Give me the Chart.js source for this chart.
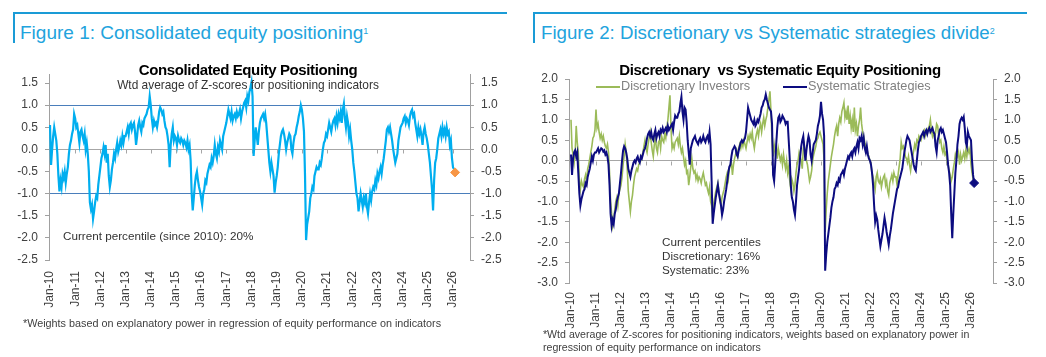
<!DOCTYPE html>
<html><head><meta charset="utf-8">
<script src="https://cdn.jsdelivr.net/npm/chart.js@4.4.1/dist/chart.umd.min.js"></script>
<style>
body{margin:0;width:1046px;height:357px;background:#fff;position:relative;overflow:hidden;font-family:"Liberation Sans",Arial,sans-serif;}
.hdr{position:absolute;top:12px;height:31px;border-top:2px solid #1a9bd6;border-left:2px solid #1a9bd6;box-sizing:border-box;}
.fig{position:absolute;top:23px;font-size:19px;line-height:19px;color:#22a3dd;white-space:nowrap;}
.fig sup{font-size:9px;vertical-align:top;position:relative;top:-1px;}
.t{position:absolute;white-space:nowrap;color:#333;}
.ctitle{font-weight:bold;font-size:15px;line-height:15px;letter-spacing:-0.4px;color:#000;transform:translateX(-50%);}
.sub{font-size:11.9px;line-height:12px;color:#333;transform:translateX(-50%);}
.ann{font-size:11.7px;line-height:14px;color:#333;}
.foot{font-size:10.8px;line-height:12.5px;color:#404040;}
.leg{font-size:12.7px;line-height:13px;color:#808080;}
.legline{position:absolute;height:2px;}
canvas{position:absolute;}
</style></head>
<body>
<div class="hdr" style="left:13px;width:494px;"></div>
<div class="fig" style="left:20px;">Figure 1: Consolidated equity positioning<sup>1</sup></div>
<div class="hdr" style="left:533px;width:494px;"></div>
<div class="fig" style="left:541px;font-size:18.7px;">Figure 2: Discretionary vs Systematic strategies divide<sup>2</sup></div>

<canvas id="c1" width="520" height="260" style="left:0;top:60px;width:520px;height:260px;"></canvas>
<canvas id="c2" width="526" height="290" style="left:520px;top:60px;width:526px;height:290px;"></canvas>

<div class="t ctitle" style="left:248px;top:62px;">Consolidated Equity Positioning</div>
<div class="t sub" style="left:248px;top:79px;">Wtd average of Z-scores for positioning indicators</div>
<div class="t ann" style="left:63px;top:229px;">Current percentile (since 2010): 20%</div>
<div class="t foot" style="left:23px;top:317px;">*Weights based on explanatory power in regression of equity performance on indicators</div>

<div class="t ctitle" style="left:780px;top:62px;">Discretionary&nbsp; vs Systematic Equity Positioning</div>
<div class="legline" style="left:596px;top:86px;width:24px;background:#9bbb59;"></div>
<div class="t leg" style="left:621px;top:80px;">Discretionary Investors</div>
<div class="legline" style="left:783px;top:86px;width:24px;background:#0c0c80;"></div>
<div class="t leg" style="left:808px;top:80px;">Systematic Strategies</div>
<div class="t ann" style="left:662px;top:235px;">Current percentiles<br>Discretionary: 16%<br>Systematic: 23%</div>
<div class="t foot" style="left:543px;top:328px;font-size:10.6px;">*Wtd average of Z-scores for positioning indicators, weights based on explanatory power in<br>regression of equity performance on indicators</div>

<script>
// semi-monthly observations starting Jan 2010 (two per month)
const startYear = 2010;
const periodsPerYear = 24;

const tickYears = [2010,2011,2012,2013,2014,2015,2016,2017,2018,2019,2020,2021,2022,2023,2024,2025,2026];
const tickLabels = ['Jan-10','Jan-11','Jan-12','Jan-13','Jan-14','Jan-15','Jan-16','Jan-17','Jan-18','Jan-19','Jan-20','Jan-21','Jan-22','Jan-23','Jan-24','Jan-25','Jan-26'];
const yTicks1 = [-2.5,-2.0,-1.5,-1.0,-0.5,0,0.5,1.0,1.5];
const yTicks2 = [-3.0,-2.5,-2.0,-1.5,-1.0,-0.5,0,0.5,1.0,1.5,2.0];

const consolidated = [
 0.55,-0.35,0.0,0.3,0.5,0.35,0.2,-0.1,-0.6,-0.95,-0.7,-0.85,-0.55,-0.65,-0.5,-0.75,-0.55,-0.4,-0.1,0.1,0.2,0.35,0.45,0.8,
 0.7,0.5,0.55,0.35,0.15,0.4,0.45,0.3,0.2,0.35,0.0,0.15,-0.1,-0.5,-1.2,-1.35,-1.25,-1.57,-1.4,-1.2,-1.05,-1.1,-0.8,-0.6,
 -0.4,-0.2,-0.1,0.05,-0.1,0.1,-0.3,-0.1,-0.6,-0.85,-0.7,-0.45,-0.3,-0.1,-0.2,0.0,0.15,-0.05,0.05,0.2,0.1,0.3,0.15,0.3,
 0.3,0.4,0.5,0.35,0.55,0.6,0.45,0.55,0.6,0.4,0.1,0.3,0.55,0.65,0.5,0.4,0.6,0.55,0.7,0.75,0.8,0.9,0.95,1.2,
 1.0,0.7,0.5,0.65,0.55,0.6,0.5,0.65,0.85,0.95,0.9,0.8,0.85,0.65,0.5,0.45,0.3,0.1,-0.4,0.1,0.35,0.5,0.2,0.3,
 0.25,0.1,0.3,0.2,0.15,0.25,0.2,0.1,0.2,0.15,0.05,0.2,0.0,0.1,-0.25,-1.0,-1.38,-1.1,-0.8,-0.6,-0.5,-0.7,-0.85,-0.95,
 -1.1,-1.25,-1.0,-0.9,-0.7,-0.75,-0.55,-0.45,-0.35,-0.4,-0.2,-0.3,-0.15,0.1,-0.1,-0.2,0.05,-0.05,0.2,0.1,0.0,0.3,0.4,0.5,
 0.6,0.75,0.9,0.8,0.7,0.85,0.65,0.75,0.8,0.7,0.85,0.75,0.8,0.9,0.7,0.85,0.95,1.05,1.1,0.95,1.2,1.1,1.3,1.4,
 1.52,1.2,-0.15,0.2,0.5,0.3,0.1,0.4,0.6,0.7,0.75,0.8,0.7,0.8,0.6,0.3,0.0,-0.3,-0.5,-0.3,-0.45,-0.6,-0.98,-0.75,
 -0.6,-0.4,-0.1,0.1,0.3,0.4,0.45,0.35,0.2,0.0,0.15,0.25,0.35,0.3,0.0,-0.1,0.15,0.3,0.35,0.5,0.6,0.75,0.85,1.0,
 0.9,0.7,0.4,-0.6,-2.05,-1.7,-1.55,-1.4,-1.1,-1.0,-0.85,-0.9,-0.6,-0.5,-0.4,-0.45,-0.45,-0.3,-0.35,-0.2,0.0,0.15,0.2,0.35,
 0.3,0.45,0.6,0.5,0.4,0.55,0.65,0.7,0.55,0.75,0.6,0.8,0.7,0.85,0.6,0.9,1.03,0.7,0.5,0.75,0.6,0.3,0.45,0.2,
 0.0,-0.3,-0.5,-0.75,-1.0,-1.1,-1.4,-1.2,-1.0,-1.15,-1.3,-1.1,-1.2,-1.0,-1.3,-1.45,-1.2,-1.0,-1.15,-0.95,-0.85,-0.9,-0.7,-0.8,
 -0.55,-0.65,-0.5,-0.4,-0.55,-0.35,-0.2,0.0,0.2,0.45,0.5,0.4,0.5,0.35,0.2,0.0,-0.15,-0.3,-0.2,-0.1,0.2,0.35,0.5,0.55,
 0.6,0.7,0.75,0.6,0.7,0.65,0.55,0.75,0.85,0.9,0.75,0.8,0.6,0.45,0.3,0.5,0.35,0.45,0.3,0.1,0.4,0.5,0.35,0.25,
 0.1,-0.1,-0.3,-0.6,-0.9,-1.38,-0.7,-0.3,-0.2,0.0,0.25,0.35,0.45,0.3,0.5,0.35,0.45,0.3,0.5,0.35,0.4,0.1,0.2,-0.2,
 -0.4,-0.45,-0.52
];

const discretionary = [
 1.0,0.3,0.15,-0.05,0.2,0.85,0.45,0.2,-0.5,-0.7,-0.5,-0.6,-0.65,-0.45,-0.35,-0.5,-0.2,-0.1,0.05,0.2,0.35,0.55,0.6,0.75,
 1.25,0.8,0.9,0.7,0.55,0.65,0.5,0.6,0.45,0.35,0.3,0.4,0.2,-0.3,-1.0,-1.3,-1.6,-1.45,-1.2,-1.0,-0.9,-1.1,-0.8,-0.7,
 -0.6,-0.4,-0.1,0.1,0.4,0.2,-0.2,-0.75,-1.0,-1.25,-1.0,-0.85,-0.6,-0.4,-0.3,-0.2,-0.25,-0.1,-0.05,0.0,0.1,0.2,0.35,0.5,
 0.3,0.2,0.4,0.55,0.7,0.45,0.25,0.1,0.4,0.55,0.3,0.2,0.45,0.5,0.3,0.6,0.5,0.45,0.65,0.55,0.8,1.0,1.3,1.6,
 0.8,0.3,0.4,0.3,0.45,0.5,0.55,0.4,0.6,0.35,0.2,0.3,0.1,-0.1,0.0,-0.3,-0.25,-0.6,-0.4,-0.15,0.05,-0.2,-0.3,-0.25,
 -0.45,-0.35,-0.5,-0.4,-0.45,-0.55,-0.4,-0.3,-0.45,-0.6,-0.55,-0.7,-0.8,-0.65,-1.0,-1.1,-1.4,-1.05,-0.9,-0.75,-0.65,-0.55,-0.75,-0.95,
 -1.1,-0.9,-0.8,-0.7,-0.55,-0.4,-0.3,-0.45,-0.2,-0.1,-0.05,-0.35,-0.1,0.05,0.15,0.25,0.1,0.3,0.4,0.3,0.45,0.35,0.5,0.4,
 0.3,0.45,0.6,0.5,0.65,0.55,0.7,0.45,0.3,0.5,0.65,0.75,0.6,0.8,0.9,0.7,0.9,1.05,0.85,1.0,1.1,1.3,1.5,1.7,
 1.2,0.5,0.1,0.4,0.2,0.35,0.05,0.3,0.15,0.0,0.1,-0.1,0.15,-0.05,-0.2,0.0,-0.3,-0.15,-0.5,-0.7,-0.45,-0.55,-0.75,-0.6,
 -0.3,-0.1,0.0,0.2,0.1,0.0,-0.2,0.3,0.4,0.15,0.0,-0.1,-0.3,-0.5,-0.4,-0.25,0.0,0.15,0.25,0.35,0.5,0.55,0.65,0.7,
 0.6,0.5,0.4,0.0,-1.75,-1.2,-0.8,-0.5,-0.3,-0.1,0.1,0.25,0.4,0.6,0.75,0.85,0.6,0.9,1.05,0.95,1.2,1.3,1.42,1.05,
 1.2,1.0,1.35,0.9,1.1,0.8,1.0,0.7,1.3,0.75,0.9,0.6,0.85,1.0,1.3,0.9,0.7,0.6,0.45,0.35,0.3,0.15,0.1,0.0,
 -0.1,-0.3,-0.4,-0.55,-0.7,-0.4,-0.3,-0.5,-0.55,-0.45,-0.65,-0.5,-0.4,-0.35,-0.6,-0.5,-0.75,-0.85,-0.55,-0.45,-0.35,-0.5,-0.3,-0.4,
 -0.4,-0.6,-0.35,-0.15,0.05,0.45,0.3,0.35,0.25,0.1,0.05,-0.05,0.1,-0.1,-0.25,-0.05,0.1,0.25,0.4,0.3,0.5,0.45,0.6,0.55,
 0.5,0.6,0.7,0.75,0.6,0.7,0.65,0.8,0.85,1.0,0.75,0.6,0.7,0.55,0.7,0.9,0.85,0.6,0.45,0.5,0.3,0.2,0.35,0.15,
 0.2,0.0,-0.1,-0.25,-0.35,-0.5,-0.4,-0.2,-0.05,0.15,0.05,0.1,0.2,-0.1,0.15,0.0,0.1,0.2,0.05,0.25,0.1,0.3,0.2,0.3,
 -0.1,-0.3,-0.45,-0.5
];

const systematic = [
 0.15,-0.35,0.05,0.2,0.25,0.1,0.2,-0.3,-0.8,-1.1,-0.95,-0.85,-0.75,-0.7,-0.55,-0.6,-0.4,-0.3,-0.2,-0.05,0.1,0.0,0.15,0.2,
 0.2,0.25,0.3,0.2,0.25,0.3,0.28,0.22,0.25,0.15,0.2,0.1,-0.1,-0.6,-1.3,-1.6,-1.45,-1.55,-1.3,-1.2,-1.0,-0.9,-0.8,-0.55,
 -0.3,0.0,0.25,0.35,0.3,0.2,0.05,-0.2,-0.3,-0.4,-0.25,-0.15,-0.05,0.0,-0.05,0.05,0.1,0.0,-0.05,0.1,0.05,0.15,0.25,0.3,
 0.4,0.55,0.65,0.7,0.6,0.7,0.55,0.5,0.65,0.75,0.55,0.65,0.7,0.6,0.75,0.7,0.8,0.7,0.75,0.8,0.7,0.85,0.75,0.8,
 0.85,0.9,0.75,0.95,1.1,1.05,1.05,1.15,1.2,1.4,1.56,1.2,1.0,1.3,1.25,0.95,0.5,0.2,-0.1,0.3,0.4,0.5,0.55,0.6,
 0.5,0.45,0.4,0.5,0.55,0.45,0.5,0.6,0.5,0.45,0.55,0.6,0.5,0.7,0.4,-0.5,-1.55,-1.3,-1.1,-0.9,-0.75,-0.6,-0.8,-0.95,
 -1.1,-1.33,-1.2,-1.0,-0.85,-0.7,-0.5,-0.3,-0.15,-0.1,0.1,0.25,0.3,0.35,0.3,0.15,0.1,0.25,0.35,0.45,0.5,0.45,0.5,0.55,
 0.7,1.0,1.3,1.2,1.1,1.0,0.95,0.9,1.0,0.85,0.9,1.0,0.95,1.05,1.15,1.3,1.35,1.45,1.5,1.62,1.5,1.4,1.3,1.25,
 1.2,0.9,-0.35,-0.5,-0.1,0.4,0.8,1.05,1.1,0.95,1.0,1.1,1.05,1.0,0.9,0.95,0.95,0.5,0.05,-0.6,-0.9,-1.0,-1.2,-1.33,
 -1.0,-0.6,-0.4,-0.2,0.1,0.35,0.5,0.6,0.3,0.0,0.25,0.45,0.6,0.5,0.15,0.0,0.2,0.4,0.45,0.5,0.65,0.85,0.95,1.1,
 1.44,1.15,1.0,0.6,-2.7,-2.3,-2.0,-1.8,-1.6,-1.4,-1.15,-1.0,-0.9,-0.7,-0.65,-0.55,-0.6,-0.45,-0.5,-0.35,-0.3,-0.25,-0.35,-0.2,
 -0.1,0.0,0.1,0.05,0.15,0.2,0.1,0.25,0.3,0.2,0.35,0.45,0.3,0.55,0.5,0.6,0.4,0.55,0.3,0.2,0.35,0.15,0.05,0.0,
 -0.1,-0.3,-0.6,-1.1,-1.5,-1.35,-1.45,-1.7,-1.9,-2.1,-1.95,-1.8,-1.6,-1.4,-1.55,-1.75,-1.9,-2.06,-1.85,-1.7,-1.5,-1.3,-1.15,-1.0,
 -0.85,-0.7,-0.65,-0.5,-0.4,-0.3,-0.2,0.0,0.2,0.35,0.5,0.6,0.55,0.5,0.35,0.2,0.05,-0.1,-0.2,-0.25,0.0,0.25,0.45,0.5,
 0.6,0.65,0.7,0.6,0.7,0.75,0.65,0.75,0.8,0.7,0.75,0.8,0.7,0.65,0.35,0.2,0.5,0.6,0.75,0.8,0.7,0.75,0.65,0.55,
 0.45,0.2,-0.1,-0.3,-0.6,-1.3,-1.9,-1.3,-0.8,-0.3,0.0,0.4,0.6,0.9,1.0,1.05,1.0,1.07,0.8,0.45,0.35,0.7,0.6,0.55,
 0.5,0.0,-0.35,-0.55
];

function toPoints(arr){ return arr.map((v,i)=>({x: startYear + i/periodsPerYear, y: v})); }
function lastPoint(arr){ const p = toPoints(arr); return [p[p.length-1]]; }

Chart.defaults.font.family = '"Liberation Sans", Arial, sans-serif';
Chart.defaults.font.size = 12;
Chart.defaults.color = '#404040';
Chart.defaults.animation = false;

const zeroTicks = {
  id:'zeroTicks',
  beforeDatasetsDraw(chart){
    const ctx = chart.ctx, xs = chart.scales.x, ys = chart.scales.y;
    const y0 = Math.round(ys.getPixelForValue(0)) + 0.5;
    ctx.save(); ctx.strokeStyle = '#a6a6a6'; ctx.lineWidth = 1;
    xs.ticks.forEach(t=>{
      const px = Math.round(xs.getPixelForValue(t.value)) + 0.5;
      ctx.beginPath(); ctx.moveTo(px, y0); ctx.lineTo(px, y0 + 4); ctx.stroke();
    });
    ctx.restore();
  }
};

function makeOptions(cfg){
  const yAxis = (pos, width, withGrid) => ({
    type:'linear', position: pos, min: cfg.ymin, max: cfg.ymax,
    afterBuildTicks: s => { s.ticks = cfg.yTicks.map(v=>({value:v})); },
    afterFit: s => { s.width = width; },
    ticks:{ callback: v => Number(v).toFixed(1), padding: 7, color:'#404040', font:{size:12} },
    grid:{
      drawOnChartArea: withGrid, drawTicks: true, tickLength: 4, tickColor:'#a0a0a0', lineWidth: 1,
      color: c => { const v = c.tick && c.tick.value; if (v === 0) return '#a6a6a6'; if (cfg.blueLines && Math.abs(v) === 1) return '#4a7ebb'; return 'rgba(0,0,0,0)'; }
    },
    border:{ display:true, color:'#a0a0a0', width:1 }
  });
  return {
    responsive:false, maintainAspectRatio:false, animation:false,
    layout:{ padding:{ top: cfg.padTop, left:0, right:0, bottom:0 } },
    plugins:{ legend:{display:false}, title:{display:false}, tooltip:{enabled:false} },
    elements:{ point:{ radius:0 }, line:{ tension:0 } },
    scales:{
      x:{ type:'linear', min: cfg.xmin, max: cfg.xmax,
        afterBuildTicks: s => { s.ticks = tickYears.map(v=>({value:v})); },
        afterFit: s => { s.height = cfg.xHeight; },
        ticks:{ autoSkip:false, minRotation:90, maxRotation:90, padding: cfg.xPad, color:'#404040', font:{size:12},
          callback: (v,i) => tickLabels[i] },
        grid:{ display:false, drawTicks:false },
        border:{ display:false }
      },
      y: yAxis('left', 49, true),
      y2: yAxis('right', cfg.rightW, false)
    }
  };
}

new Chart(document.getElementById('c1'), {
  type:'line',
  data:{ datasets:[
    { data: lastPoint(consolidated), showLine:false, pointStyle:'rectRot', pointRadius:4.5, backgroundColor:'#f79646', borderColor:'#f79646', order:0 },
    { data: toPoints(consolidated), borderColor:'#00aeef', borderWidth:2.2, pointRadius:0, fill:false, order:1 }
  ]},
  options: makeOptions({ ymin:-2.5, ymax:1.7, yTicks:yTicks1, blueLines:true, padTop:12, xmin:2009.96, xmax:2026.675, xHeight:60, xPad:11, rightW:50 }),
  plugins:[zeroTicks]
});

new Chart(document.getElementById('c2'), {
  type:'line',
  data:{ datasets:[
    { data: lastPoint(systematic), showLine:false, pointStyle:'rectRot', pointRadius:4.5, backgroundColor:'#0c0c80', borderColor:'#0c0c80', order:0 },
    { label:'Systematic Strategies', data: toPoints(systematic), borderColor:'#0c0c80', borderWidth:2, pointRadius:0, fill:false, order:1 },
    { label:'Discretionary Investors', data: toPoints(discretionary), borderColor:'#9bbb59', borderWidth:1.6, pointRadius:0, fill:false, order:2 }
  ]},
  options: makeOptions({ ymin:-3, ymax:2, yTicks:yTicks2, blueLines:false, padTop:19, xmin:2009.92, xmax:2026.88, xHeight:67, xPad:9, rightW:53 }),
  plugins:[zeroTicks]
});
</script>
</body></html>
